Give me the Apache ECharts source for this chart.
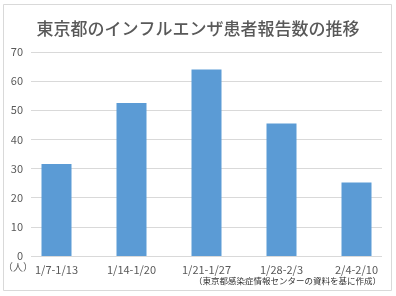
<!DOCTYPE html>
<html><head><meta charset="utf-8">
<script src="https://cdn.jsdelivr.net/npm/echarts@6/dist/echarts.min.js"></script>
<style>html,body{margin:0;padding:0;background:#fff}#c{width:396px;height:296px}</style>
</head><body><div id="c"></div>
<script>
const title = '東京都のインフルエンザ患者報告数の推移';
const categories = ['1/7-1/13', '1/14-1/20', '1/21-1/27', '1/28-2/3', '2/4-2/10'];
const values = [31.6, 52.5, 64.0, 45.5, 25.2];
const yTicks = [0, 10, 20, 30, 40, 50, 60, 70];
const unitLabel = '（人）';
const sourceNote = '（東京都感染症情報センターの資料を基に作成）';

const font = '"Noto Sans CJK JP", "Noto Sans", sans-serif';
const chart = echarts.init(document.getElementById('c'), null, {renderer: 'canvas'});
chart.setOption({
  animation: false,
  backgroundColor: '#fff',
  title: {
    text: title, left: 'center', top: 15,
    textStyle: {fontFamily: font, fontSize: 17, fontWeight: 500, color: '#595959'}
  },
  grid: [
    {left: 31, right: 14, top: 52, bottom: 40, containLabel: false},
    {left: 19, right: 2, top: 52, bottom: 40, containLabel: false}
  ],
  xAxis: [
    {gridIndex: 0, type: 'value', show: false, min: 0, max: 1},
    {gridIndex: 1, type: 'category', data: categories,
     axisLine: {show: false}, axisTick: {show: false},
     axisLabel: {margin: 8, fontFamily: font, fontSize: 11, color: '#595959'}}
  ],
  yAxis: [
    {gridIndex: 0, type: 'value', min: yTicks[0], max: yTicks[yTicks.length - 1], interval: 10,
     axisLine: {show: false}, axisTick: {show: false},
     axisLabel: {margin: 8, fontFamily: font, fontSize: 11, color: '#595959'},
     splitLine: {lineStyle: {color: '#d9d9d9', width: 1}}},
    {gridIndex: 1, type: 'value', min: yTicks[0], max: yTicks[yTicks.length - 1], interval: 10, show: false}
  ],
  series: [{
    type: 'bar', xAxisIndex: 1, yAxisIndex: 1, data: values,
    barWidth: '40%', itemStyle: {color: '#5B9BD5'}
  }],
  graphic: [
    {type: 'rect', shape: {x: 3.5, y: 4.5, width: 388, height: 286}, silent: true, z: -1,
     style: {fill: 'none', stroke: '#d9d9d9', lineWidth: 1}},
    {type: 'text', left: 3, top: 262, style: {text: unitLabel, font: '10px ' + font, fill: '#595959'}},
    {type: 'text', right: 15, top: 277, style: {text: sourceNote, font: '8.5px ' + font, fill: '#333'}}
  ]
});
</script></body></html>
